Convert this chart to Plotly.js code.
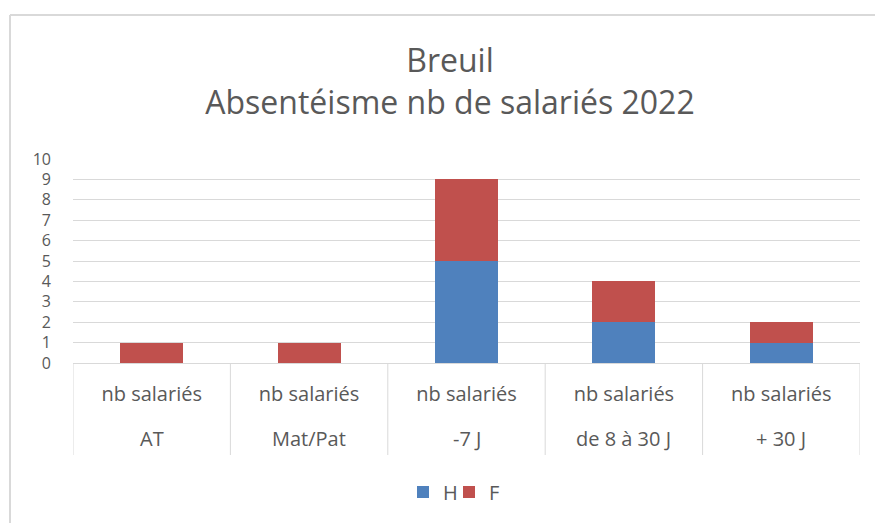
<!DOCTYPE html>
<html>
<head>
<meta charset="utf-8">
<script src="https://cdn.plot.ly/plotly-3.0.1.min.js"></script>
<style>html,body{margin:0;padding:0;background:#fff;}#chart{width:875px;height:523px;}</style>
</head>
<body>
<div id="chart"></div>
<script>
const periods = ["AT", "Mat/Pat", "-7 J", "de 8 à 30 J", "+ 30 J"];
const measure = ["nb salariés", "nb salariés", "nb salariés", "nb salariés", "nb salariés"];
const valuesH = [0, 0, 5, 2, 1];
const valuesF = [1, 1, 4, 2, 1];
const seriesNames = ["H", "F"];
const titleLines = ["Breuil", "Absentéisme nb de salariés 2022"];

const W = 875, H = 523;
const M = {l: 73, r: 15, t: 159, b: 160};
const pw = W - M.l - M.r, ph = H - M.t - M.b;
const px2x = p => (p - M.l) / pw;
const py2y = p => 1 - (p - M.t) / ph;
const font = "'Open Sans', 'DejaVu Sans', sans-serif";
const txt = "#595959";
const grid = "#D9D9D9";

const traces = [
  {type: "bar", name: seriesNames[0], x: periods, y: valuesH, legend: "legend",
   marker: {color: "#4F81BD", line: {width: 0}}},
  {type: "bar", name: seriesNames[1], x: periods, y: valuesF, legend: "legend2",
   marker: {color: "#C0504D", line: {width: 0}}}
];

// outer category row (below the "nb salariés" row)
const outerLabels = periods.map(p => ({
  text: p, x: p, xref: "x", y: py2y(438), yref: "paper", yanchor: "middle",
  showarrow: false, font: {family: font, size: 20, color: txt}
}));

// group dividers at category boundaries
const dividers = [];
for (let i = 0; i <= periods.length; i++) {
  dividers.push({type: "line", xref: "x", yref: "paper", x0: i - 0.5, x1: i - 0.5,
    y0: 0, y1: py2y(455), line: {color: grid, width: 1}});
}

const legendStyle = {orientation: "h", xanchor: "left", y: py2y(492), yanchor: "middle",
  bgcolor: "rgba(0,0,0,0)", font: {family: font, size: 20, color: txt}, itemwidth: 30};

const layout = {
  width: W, height: H,
  margin: M,
  paper_bgcolor: "#fff", plot_bgcolor: "#fff",
  barmode: "stack", bargap: 0.6,
  font: {family: font, color: txt, size: 20},
  title: {text: titleLines.join("<br>"), font: {family: font, size: 32, color: txt},
          x: 450 / W, xref: "container", xanchor: "center",
          y: 1 - 72 / H, yref: "container", yanchor: "top"},
  xaxis: {type: "category", range: [-0.5, periods.length - 0.5],
          showline: true, linecolor: grid, linewidth: 1, showgrid: false,
          tickvals: periods, ticktext: measure, ticks: "", ticklabelstandoff: 13,
          tickfont: {family: font, size: 20, color: txt}},
  yaxis: {range: [0, 10], dtick: 1, tick0: 0, showgrid: true, gridcolor: grid, gridwidth: 1,
          zeroline: false, showline: false, ticks: "", ticklabelstandoff: 21,
          tickfont: {family: font, size: 16, color: txt}},
  legend: Object.assign({}, legendStyle, {x: px2x(403)}),
  legend2: Object.assign({}, legendStyle, {x: px2x(449)}),
  hovermode: false,
  showlegend: true,
  annotations: outerLabels,
  shapes: dividers.concat([
    {type: "line", xref: "paper", yref: "paper", x0: px2x(10), x1: px2x(10), y0: py2y(15), y1: py2y(560),
     line: {color: grid, width: 2}},
    {type: "line", xref: "paper", yref: "paper", x0: px2x(10), x1: px2x(900), y0: py2y(15), y1: py2y(15),
     line: {color: grid, width: 2}}
  ])
};

Plotly.newPlot("chart", traces, layout, {displayModeBar: false, staticPlot: true});
</script>
</body>
</html>
